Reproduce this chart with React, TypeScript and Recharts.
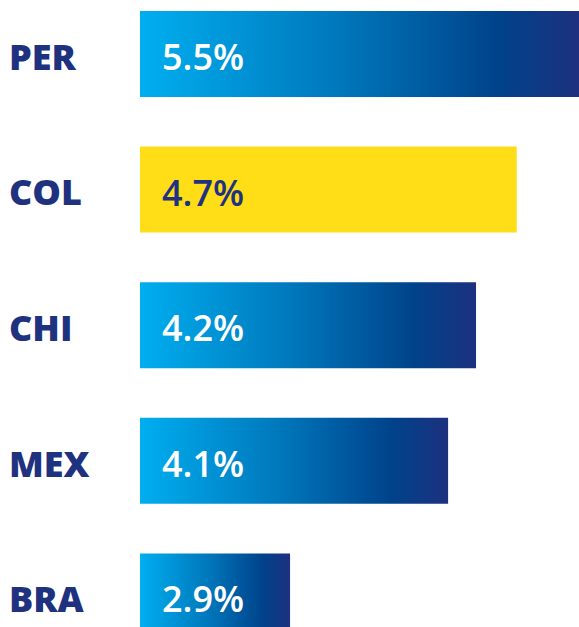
import { BarChart, Bar, XAxis, YAxis, Cell, LabelList } from 'recharts'

// countries, top to bottom
const countries = ['PER', 'COL', 'CHI', 'MEX', 'BRA']
// printed value labels
const valueLabels = ['5.5%', '4.7%', '4.2%', '4.1%', '2.9%']
// bar lengths (PER scale = 5.5)
const barLengths = [5.5, 4.72, 4.21, 3.86, 1.88]
// which bar is highlighted
const highlight = countries.map(c => c === 'COL')

const navy = '#1E3280'
const font = '"Open Sans", sans-serif'

const data = countries.map((c, i) => ({
  country: c,
  value: barLengths[i],
  label: valueLabels[i],
}))

const CountryTick = ({ y, payload }: any) => (
  <text
    x={9}
    y={y}
    dy={16}
    textAnchor="start"
    fill={navy}
    fontFamily={font}
    fontWeight={800}
    fontSize={36}
  >
    {payload.value}
  </text>
)

const ValueLabel = ({ x, y, height, index }: any) => (
  <text
    x={x + 22}
    y={y + height / 2}
    dy={16}
    textAnchor="start"
    fill={highlight[index] ? navy : '#ffffff'}
    fontFamily={font}
    fontWeight={600}
    fontSize={36}
  >
    {valueLabels[index]}
  </text>
)

export default function App() {
  return (
    <div style={{ position: 'absolute', left: 0, top: -14, width: 579, height: 678 }}>
      <BarChart
        width={579}
        height={678}
        data={data}
        layout="vertical"
        margin={{ top: 0, right: 0, bottom: 0, left: 0 }}
        barCategoryGap={25}
      >
        <defs>
          <linearGradient id="blueGrad" x1="0" y1="0" x2="1" y2="0">
            <stop offset="0%" stopColor="#00AEEF" />
            <stop offset="45%" stopColor="#0078BC" />
            <stop offset="82%" stopColor="#00428A" />
            <stop offset="100%" stopColor="#1D317F" />
          </linearGradient>
        </defs>
        <XAxis type="number" domain={[0, 5.5]} hide />
        <YAxis
          type="category"
          dataKey="country"
          width={140}
          axisLine={false}
          tickLine={false}
          tick={<CountryTick />}
        />
        <Bar dataKey="value" isAnimationActive={false}>
          {data.map((d, i) => (
            <Cell key={d.country} fill={highlight[i] ? '#FFDD17' : 'url(#blueGrad)'} />
          ))}
          <LabelList dataKey="label" content={<ValueLabel />} />
        </Bar>
      </BarChart>
    </div>
  )
}
